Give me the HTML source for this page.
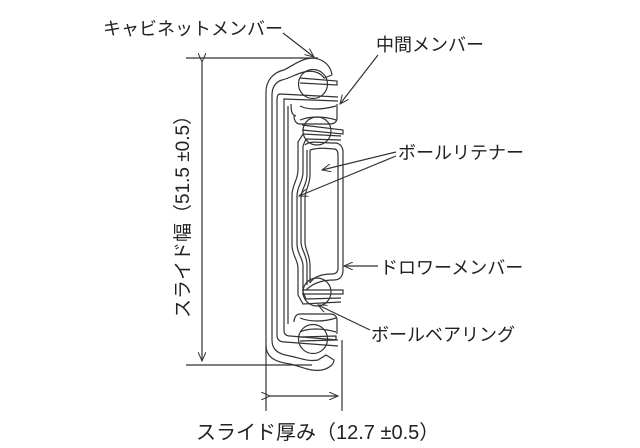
<!DOCTYPE html>
<html><head><meta charset="utf-8"><style>
html,body{margin:0;padding:0;background:#fff}
svg{display:block}
text{font-family:"Liberation Sans","Noto Sans CJK JP",sans-serif;fill:#222}
</style></head><body>
<svg width="640" height="448" viewBox="0 0 640 448" xmlns="http://www.w3.org/2000/svg">
<defs>
<marker id="a" markerWidth="10" markerHeight="8" refX="9" refY="4" orient="auto" markerUnits="userSpaceOnUse">
<path d="M0,0 L9,4 L0,8" fill="none" stroke="#333" stroke-width="1"/></marker>
</defs>
<g fill="none" stroke="#333" stroke-width="1.2">
<line x1="186" y1="58" x2="318" y2="58"/>
<line x1="186" y1="365" x2="312" y2="365"/>
<line x1="202" y1="62" x2="202" y2="361" marker-start="url(#a)" marker-end="url(#a)"/>
<line x1="266" y1="345" x2="266" y2="411"/>
<line x1="342" y1="340" x2="342" y2="411"/>
<line x1="270" y1="396" x2="338" y2="396" marker-start="url(#a)" marker-end="url(#a)"/>
<path d="M332,75 C330,62 318,56 306,59 C298,61 292,66 284,70 C274,72 266,80 266,92 L266,345 C266,358 276,362 290,364 C300,366 310,372 322,370 C330,368 334,364 334,360"/>
<path d="M332,75 L324,78 C320,72 312,70 304,72 C296,74 290,78 282,80 C275,82 272,88 272,95 L272,340 C272,350 278,354 290,356 C300,358 308,362 318,360 L326,355 L334,360"/>
<path d="M338,97 L280,94 C277,94 277,98 277,102 L277,335 C277,340 280,342 285,342 L338,346"/>
<path d="M338,101 L284,99 L284,330 C284,334 286,336 290,336 L338,340"/>
<path d="M288,106 L288,324 M291,104 C291,112 292,115 296,116"/>
<path d="M337,104 L337,118 C337,122 334,124 330,124 L300,124 C296,124 294,120 294,116"/>
<path d="M300,106 C308,110 322,110 336,106 M300,120 C310,116 324,116 336,120"/>
<path d="M337,334 L337,320 C337,316 334,314 330,314 L300,314 C296,314 294,318 294,322"/>
<path d="M300,332 C308,328 322,328 336,332 M300,318 C310,322 324,322 336,318"/>
<path d="M341,136 L303,134 L298,142 L298,170 C298,180 292,185 292,195 L292,245 C292,255 298,260 298,268 L298,295 L303,304 L341,302"/>
<path d="M341,140 L306,139 L303,146 L303,172 C303,182 297,186 297,196 L297,244 C297,254 303,258 303,266 L303,292 L306,299 L341,298"/>
<path d="M307,150 L307,175 C307,185 301,189 301,198 L301,242 C301,250 307,255 307,265 L307,285"/>
<path d="M305,145 C310,140 320,143 335,143 C340,143 343,147 343,152 L343,270 C343,276 340,280 334,280 C324,280 314,282 306,290"/>
<path d="M310,150 C316,148 326,148 334,149 C337,149 338,152 338,155 L338,268 C338,272 336,274 332,274 C322,274 314,276 310,283"/>
<path d="M310,150 L310,175 C310,185 305,190 305,198 L305,242 C305,250 310,255 310,265 L310,283"/>
<circle cx="313" cy="84" r="14.5"/>
<circle cx="317" cy="131" r="14"/>
<circle cx="317" cy="292" r="14"/>
<circle cx="313" cy="339" r="14.5"/>
<path d="M300,78 L337,81 L337,85 L300,83 M302,125 L343,130 L343,134 L302,130 M302,290 L343,290 L343,294 L302,294 M300,337 L336,336 L336,340 L300,341"/>
<line x1="283" y1="33" x2="314" y2="57" marker-end="url(#a)"/>
<line x1="378" y1="55" x2="340" y2="104" marker-end="url(#a)"/>
<line x1="396" y1="152" x2="322" y2="170" marker-end="url(#a)"/>
<line x1="396" y1="156" x2="299" y2="196" marker-end="url(#a)"/>
<line x1="378" y1="266" x2="344" y2="266" marker-end="url(#a)"/>
<line x1="370" y1="330" x2="318" y2="305" marker-end="url(#a)"/>
</g>
<g font-size="18">
<text x="103" y="35">キャビネットメンバー</text>
<text x="376" y="51">中間メンバー</text>
<text x="398" y="159">ボールリテナー</text>
<text x="380" y="274">ドロワーメンバー</text>
<text x="371" y="341">ボールベアリング</text>
<text x="196" y="439" font-size="20">スライド厚み（12.7 ±0.5）</text>
<text transform="translate(189,318) rotate(-90)" font-size="19">スライド幅（51.5 ±0.5）</text>
</g>
</svg>
</body></html>
